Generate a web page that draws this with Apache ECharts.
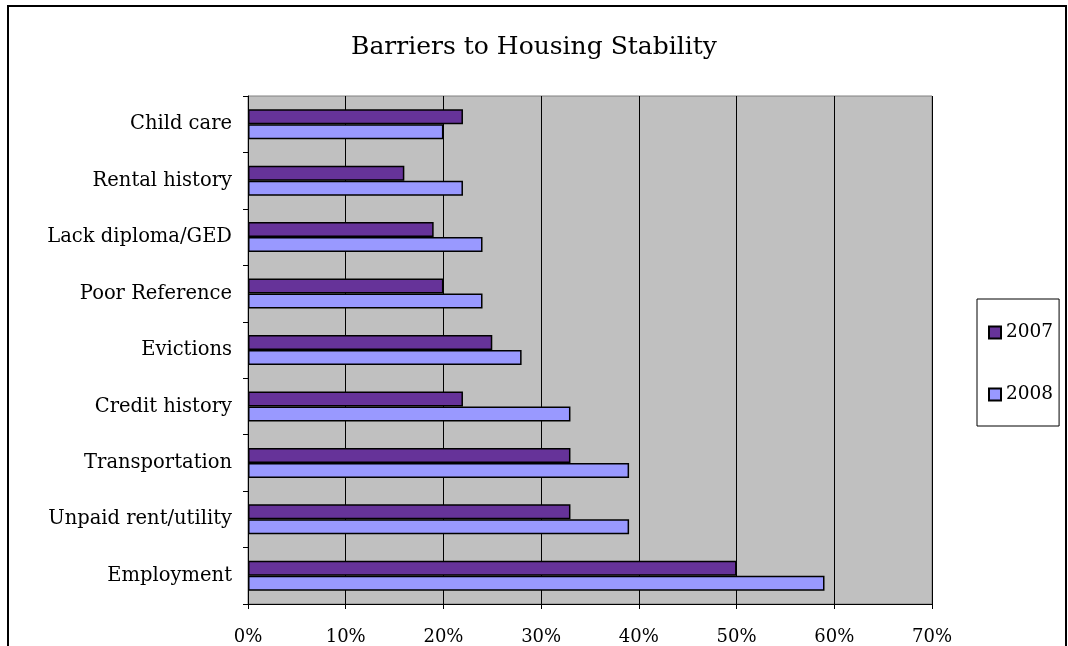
<!DOCTYPE html>
<html>
<head>
<meta charset="utf-8">
<script src="https://cdn.jsdelivr.net/npm/echarts@6/dist/echarts.min.js"></script>
<style>
html,body{margin:0;padding:0;background:#fff;}
#main{width:1068px;height:646px;}
</style>
</head>
<body>
<div id="main"></div>
<script>
var categories = ["Child care","Rental history","Lack diploma/GED","Poor Reference","Evictions","Credit history","Transportation","Unpaid rent/utility","Employment"];
var series2007 = [22,16,19,20,25,22,33,33,50];
var series2008 = [20,22,24,24,28,33,39,39,59];
var seriesNames = ["2007","2008"];
var xTicks = [0,10,20,30,40,50,60,70];

var font = "'DejaVu Serif', 'Liberation Serif', serif";
var chart = echarts.init(document.getElementById('main'));
chart.setOption({
  animation:false,
  backgroundColor:'#fff',
  title:{text:'Barriers to Housing Stability',left:'center',top:30,
    textStyle:{fontFamily:font,fontSize:25,fontWeight:'normal',color:'#000'}},
  graphic:[{type:'rect',shape:{x:8,y:6,width:1058,height:700},
    style:{fill:'none',stroke:'#000',lineWidth:2},silent:true}],
  legend:{orient:'vertical',left:977,top:299,
    padding:[24,6,22,11],itemGap:43,itemWidth:12,itemHeight:12,icon:'rect',
    borderColor:'#000',borderWidth:1,backgroundColor:'#fff',
    textStyle:{fontFamily:font,fontSize:18.5,color:'#000'},
    data:seriesNames},
  grid:{left:248,right:136,top:96,bottom:42,show:true,backgroundColor:'#c0c0c0',
    borderColor:'#808080',borderWidth:1,containLabel:false},
  xAxis:{type:'value',min:0,max:70,interval:10,
    axisLine:{show:true,lineStyle:{color:'#000',width:1}},
    axisTick:{show:true,length:5,lineStyle:{color:'#000'}},
    splitLine:{show:true,lineStyle:{color:'#000',width:1}},
    axisLabel:{margin:24,fontFamily:font,fontSize:18,color:'#000',
      formatter:function(v){return xTicks.indexOf(v)>=0? v+'%':'';}}},
  yAxis:{type:'category',inverse:true,data:categories,
    axisLine:{show:true,lineStyle:{color:'#000',width:1}},
    axisTick:{show:true,length:5,inside:false,lineStyle:{color:'#000'}},
    axisLabel:{margin:16,fontFamily:font,fontSize:19.5,color:'#000'}},
  series:[
    {name:seriesNames[0],type:'bar',data:series2007,barWidth:15,barGap:'0%',
      itemStyle:{color:'#663399',borderColor:'#000',borderWidth:1.5}},
    {name:seriesNames[1],type:'bar',data:series2008,barWidth:15,barGap:'0%',
      itemStyle:{color:'#9999ff',borderColor:'#000',borderWidth:1.5}}
  ]
});
</script>
</body>
</html>
